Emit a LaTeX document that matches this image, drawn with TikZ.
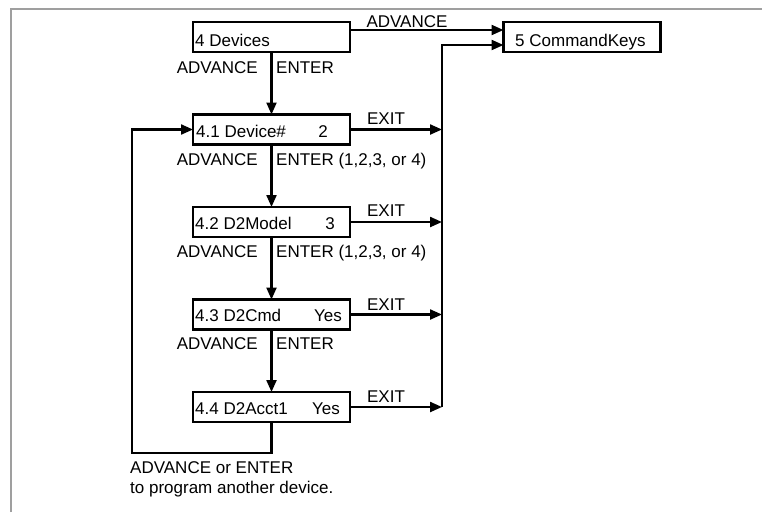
\documentclass[tikz,border=0pt]{standalone}
\usepackage{fontspec}
\setmainfont{Liberation Sans}
\usetikzlibrary{arrows.meta}
\begin{document}
\begin{tikzpicture}[x=1pt,y=-1pt,
  box/.style={draw, line width=2.6pt, minimum width=157pt, minimum height=30pt, inner sep=0pt, outer sep=0pt},
  txt/.style={inner sep=0pt, font=\fontsize{17}{19}\selectfont},
  arr/.style={line width=2.2pt, -{Triangle[length=12pt,width=10pt]}},
  ln/.style={line width=2.2pt},
  frame/.style={draw=gray!75, line width=2pt}]
\useasboundingbox (0,0) rectangle (762,512);
% frame
\draw[frame] (11,512) -- (11,9) -- (762,9);
% boxes
\node[box] (d4)  at (271.5,37)    {};
\node[box] (ck)  at (582,37)      {};
\node[box] (d41) at (271.5,129.5) {};
\node[box] (d42) at (271.5,222)   {};
\node[box] (d43) at (271.5,314.5) {};
\node[box] (d44) at (271.5,407)   {};
% box texts
\node[txt, anchor=base west] (t4)  at (195,46)  {4 Devices};
\node[txt, anchor=base west] (tck) at (515,46)  {5 CommandKeys};
\node[txt, anchor=base west] (t41) at (196,137) {4.1 Device\#};
\node[txt, anchor=base east] (v41) at (328,137) {2};
\node[txt, anchor=base west] (t42) at (195,229) {4.2 D2Model};
\node[txt, anchor=base east] (v42) at (335,229) {3};
\node[txt, anchor=base west] (t43) at (195,321) {4.3 D2Cmd};
\node[txt, anchor=base east] (v43) at (342,321) {Yes};
\node[txt, anchor=base west] (t44) at (195,414) {4.4 D2Acct1};
\node[txt, anchor=base east] (v44) at (340,414) {Yes};
% vertical chain
\draw[arr] (d4.south)  -- (d41.north);
\draw[arr] (d41.south) -- (d42.north);
\draw[arr] (d42.south) -- (d43.north);
\draw[arr] (d43.south) -- (d44.north);
\node[txt, anchor=base east] (a1) at (258,73)  {ADVANCE};
\node[txt, anchor=base west] (e1) at (276,73)  {ENTER};
\node[txt, anchor=base east] (a2) at (258,165) {ADVANCE};
\node[txt, anchor=base west] (e2) at (276,165) {ENTER (1,2,3, or 4)};
\node[txt, anchor=base east] (a3) at (258,257) {ADVANCE};
\node[txt, anchor=base west] (e3) at (276,257) {ENTER (1,2,3, or 4)};
\node[txt, anchor=base east] (a4) at (258,349) {ADVANCE};
\node[txt, anchor=base west] (e4) at (276,349) {ENTER};
% advance to command keys
\draw[arr] ([yshift=7pt]d4.east) -- ([yshift=7pt]ck.west);
\node[txt, anchor=base] (adv) at (407,27) {ADVANCE};
% exit bus
\coordinate (b41) at (442,129.5);
\coordinate (b42) at (442,222);
\coordinate (b43) at (442,314.5);
\coordinate (b44) at (442,407);
\coordinate (btop) at (442,45);
\draw[arr] (d41.east) -- (b41);
\draw[arr] (d42.east) -- (b42);
\draw[arr] (d43.east) -- (b43);
\draw[arr] (d44.east) -- (b44);
\draw[arr] (b44) -- (btop) -- ([yshift=-8pt]ck.west);
\node[txt, anchor=base] (x1) at (386,124) {EXIT};
\node[txt, anchor=base] (x2) at (386,216) {EXIT};
\node[txt, anchor=base] (x3) at (386,310) {EXIT};
\node[txt, anchor=base] (x4) at (386,402) {EXIT};
% loop back
\coordinate (lb) at (132,453);
\draw[arr] (d44.south) -- (d44.south |- lb) -- (lb) |- (d41.west);
\node[txt, anchor=base west] (n1) at (130,473) {ADVANCE or ENTER};
\node[txt, anchor=base west] (n2) at (130,493) {to program another device.};
\end{tikzpicture}
\end{document}
